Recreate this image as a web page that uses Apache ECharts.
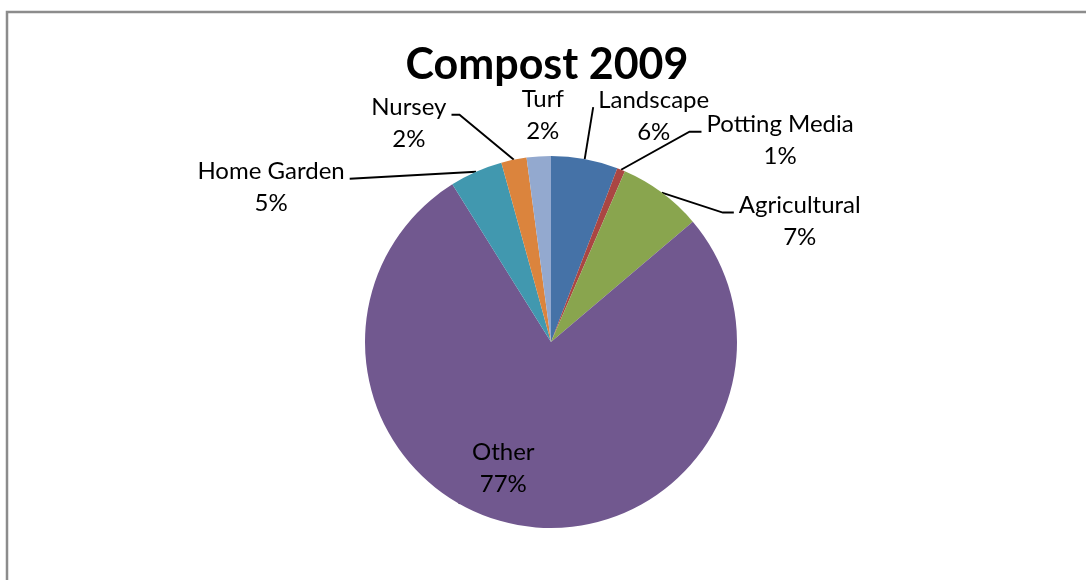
<!DOCTYPE html>
<html>
<head>
<meta charset="utf-8">
<script src="https://cdn.jsdelivr.net/npm/echarts@6/dist/echarts.min.js"></script>
<style>
html,body{margin:0;padding:0;background:#fff;}
#chart{width:1086px;height:580px;}
</style>
</head>
<body>
<div id="chart"></div>
<script>
// ---- data ----
const chartTitle = 'Compost 2009';
const categories = ['Landscape', 'Potting Media', 'Agricultural', 'Other', 'Home Garden', 'Nursey', 'Turf'];
const shares = [5.8, 0.7, 7.3, 77.3, 4.6, 2.2, 2.1];
const sliceColors = ['#4572A7', '#AA4643', '#89A54E', '#71588F', '#4198AF', '#DB843D', '#93A9CF'];

// ---- label placement (offset of text centre from the slice's arc midpoint) ----
const labelNudge = {
  'Landscape': [69, -43],
  'Potting Media': [159, -29],
  'Agricultural': [138, 29],
  'Other': [-33, 31],
  'Home Garden': [-205, 16],
  'Nursey': [-105, -36],
  'Turf': [4, -41]
};
// leader-line stub length next to the label (null = no leader line)
const leaderStub = {
  'Landscape': 0,
  'Potting Media': 12,
  'Agricultural': 11,
  'Home Garden': 0,
  'Nursey': 8,
  'Turf': null
};
const ATTACH_RAISE = 9;   // leader attaches a bit above the middle of the 2-line label
const ATTACH_GAP = 5;

const chart = echarts.init(document.getElementById('chart'), null, {renderer: 'canvas'});

const data = categories.map((name, i) => {
  const item = { name: name, value: shares[i], itemStyle: { color: sliceColors[i] } };
  if (name === 'Other') item.label = { position: 'inside' };
  if (leaderStub[name] === null) item.labelLine = { show: false };
  return item;
});

const option = {
  animation: false,
  backgroundColor: '#ffffff',
  title: {
    text: chartTitle,
    left: 547,
    top: 44,
    padding: 0,
    textAlign: 'center',
    textStyle: {
      fontFamily: 'Lato',
      fontWeight: 'bold',
      fontSize: 43,
      color: '#000000'
    }
  },
  graphic: [{
    type: 'rect',
    silent: true,
    shape: { x: 7, y: 12, width: 1200, height: 700 },
    style: { fill: 'none', stroke: '#8c8c8c', lineWidth: 2.5 }
  }],
  series: [{
    type: 'pie',
    center: [551, 342],
    radius: 186,
    startAngle: 90,
    clockwise: true,
    avoidLabelOverlap: false,
    data: data,
    itemStyle: { borderWidth: 0 },
    label: {
      show: true,
      position: 'outside',
      formatter: p => p.name + '\n' + Math.round(p.percent) + '%',
      fontFamily: 'Lato',
      fontSize: 24,
      lineHeight: 32,
      color: '#000000'
    },
    labelLine: {
      show: true,
      length: 15,
      length2: 10,
      smooth: false,
      lineStyle: { color: '#000000', width: 1.9 }
    },
    labelLayout: function (p) {
      const name = categories[p.dataIndex];
      const d = labelNudge[name];
      let ax, ay;
      if (p.labelLinePoints) {
        ax = p.labelLinePoints[0][0];
        ay = p.labelLinePoints[0][1];
      } else {
        ax = p.labelRect.x + p.labelRect.width / 2;
        ay = p.labelRect.y + p.labelRect.height / 2;
      }
      const cx = ax + d[0], cy = ay + d[1];
      const res = { x: cx, y: cy, align: 'center', verticalAlign: 'middle' };
      const stub = leaderStub[name];
      if (p.labelLinePoints && stub !== null && stub !== undefined) {
        const side = d[0] > 0 ? 1 : -1;
        const w = p.labelRect.width;
        const ex = cx - side * (w / 2 + ATTACH_GAP);
        const ey = cy - ATTACH_RAISE;
        const sx = ex - side * stub;
        res.labelLinePoints = [[ax, ay], [sx, ey], [ex, ey]];
      }
      return res;
    },
    emphasis: { disabled: true }
  }]
};

chart.setOption(option);
</script>
</body>
</html>
